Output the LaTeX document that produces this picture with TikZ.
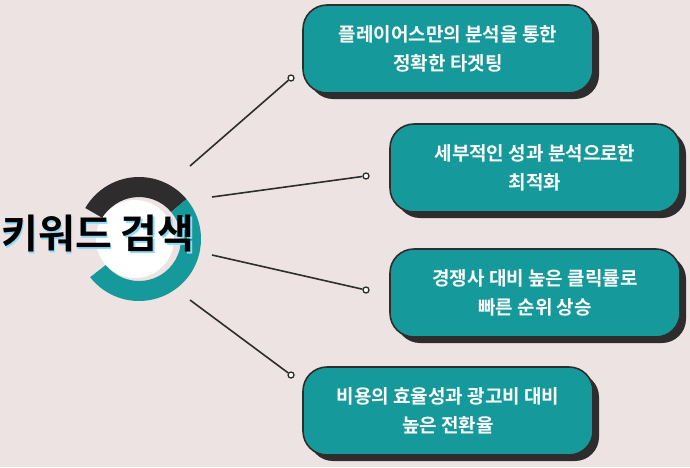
\documentclass[tikz,border=0pt]{standalone}
\usepackage{fontspec}
\newfontfamily\kr{Noto Sans CJK KR}[BoldFont={* Bold}]
\definecolor{bg}{HTML}{EDE3E3}
\definecolor{teal1}{HTML}{16999A}
\definecolor{dk}{HTML}{2E2C2C}
\tikzset{
  box/.style={draw=dk,line width=1.6pt,fill=teal1,rounded corners=24pt,minimum width=290pt,minimum height=88pt,text=white,align=center,font=\kr\bfseries\fontsize{19}{29}\selectfont},
  shadowbox/.style={fill=dk,rounded corners=24pt,minimum width=290pt,minimum height=88pt},
  conn/.style={dk,line width=1.6pt},
  dot/.style={circle,draw=dk,line width=1.3pt,fill=white,inner sep=0pt,minimum size=6pt}
}
\begin{document}
\begin{tikzpicture}[x=1pt,y=-1pt]
\fill[bg] (0,0) rectangle (690,467);
\useasboundingbox (0,0) rectangle (690,467);
% ring
\def\cx{139}\def\cy{239}
\fill[dk] (\cx,\cy) ++(-150:62) arc[start angle=-150,end angle=-40,radius=62] -- ++(-40:-20) arc[start angle=-40,end angle=-150,radius=42] -- cycle;
\fill[teal1] (\cx,\cy) ++(-40:62) arc[start angle=-40,end angle=142,radius=62] -- ++(142:-20) arc[start angle=142,end angle=-40,radius=42] -- cycle;
\fill[white] (\cx-4,\cy) circle (39);
% title
\node[text=cyan!45!white,font=\kr\bfseries\fontsize{40}{44}\selectfont] at (99.5,235.5) {키워드 검색};
\node (title) [text=black,font=\kr\bfseries\fontsize{40}{44}\selectfont] at (98,234) {키워드 검색};
% boxes
\foreach \x/\y in {448/49, 535/168, 535/293, 448/411}{\node[shadowbox] at (\x+6,\y+6) {};}
\node[box] (b1) at (448,49) {플레이어스만의 분석을 통한\\정확한 타겟팅};
\node[box] (b2) at (535,168) {세부적인 성과 분석으로한\\최적화};
\node[box] (b3) at (535,293) {경쟁사 대비 높은 클릭률로\\빠른 순위 상승};
\node[box] (b4) at (448,411) {비용의 효율성과 광고비 대비\\높은 전환율};
% connectors
\coordinate (s1) at (190,166); \coordinate (s2) at (212,197);
\coordinate (s3) at (212,255); \coordinate (s4) at (190,300);
\node[dot] (d1) at (291,78) {};
\node[dot] (d2) at (366,176) {};
\node[dot] (d3) at (366,290) {};
\node[dot] (d4) at (291,375) {};
\draw[conn] (s1) -- (d1); \draw[conn] (s2) -- (d2);
\draw[conn] (s3) -- (d3); \draw[conn] (s4) -- (d4);
\end{tikzpicture}
\end{document}
